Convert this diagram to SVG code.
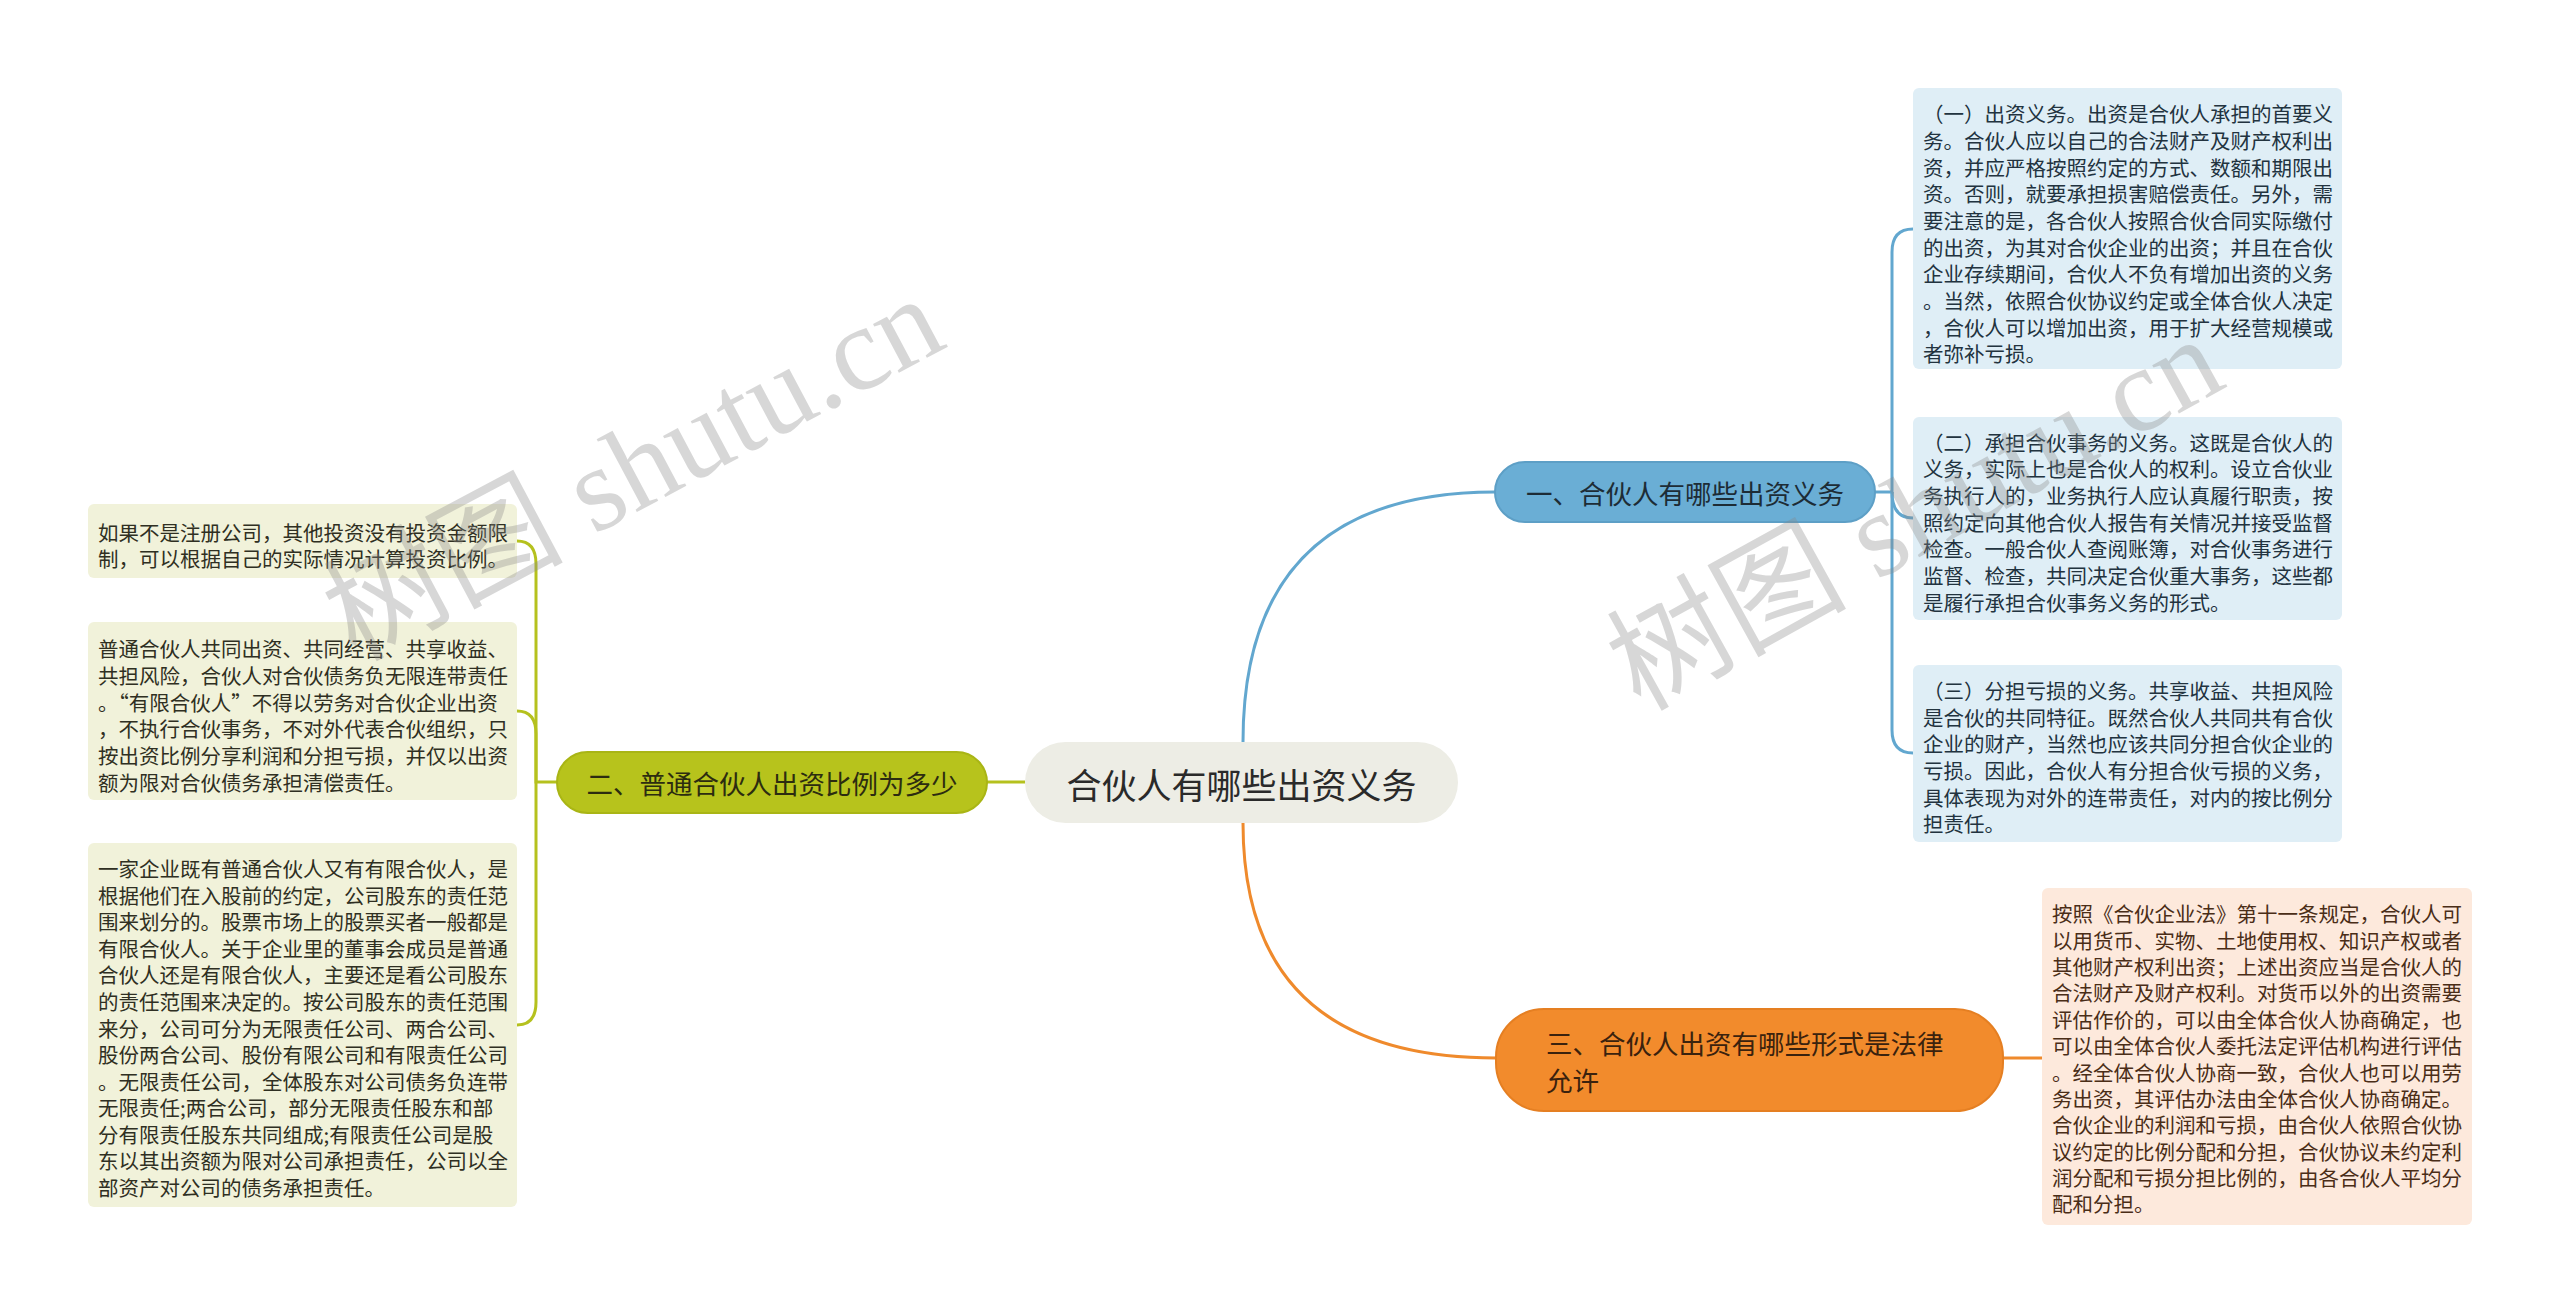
<svg xmlns="http://www.w3.org/2000/svg" width="2560" height="1312" viewBox="0 0 2560 1312">
<style>
.cn{font-family:"Noto Sans CJK SC","Noto Sans",sans-serif;dominant-baseline:central}
.leaf{font-size:20.5px}
.lb{fill:#dfeef6}
.lg{fill:#f1f2da}
.lo{fill:#fde9dc}
.tb{fill:#22333f}
.tg{fill:#2f2f22}
.to{fill:#4a2d17}
.cb{fill:none;stroke:#62a7cf;stroke-width:3}
.cg{fill:none;stroke:#b5c11e;stroke-width:3}
.co{fill:none;stroke:#ef8a2c;stroke-width:3}
.wm{font-size:120px;fill:#888;opacity:0.33}
</style>
<rect width="2560" height="1312" fill="#ffffff"/>
<g id="connectors">
<path class="cb" d="M1243,742 Q1243,492 1495,492"/>
<path class="cb" d="M1875,492 H1892 V252 Q1892,229 1913,229"/>
<path class="cb" d="M1892,492 Q1892,518 1913,518"/>
<path class="cb" d="M1892,492 V730 Q1892,753 1913,753"/>
<path class="cg" d="M1025,782 H987"/>
<path class="cg" d="M557,782 H536 V564 Q536,541 517,541"/>
<path class="cg" d="M536,782 V734 Q536,711 517,711"/>
<path class="cg" d="M536,782 V1002 Q536,1025 517,1025"/>
<path class="co" d="M1243,823 Q1243,1058 1496,1058"/>
<path class="co" d="M2003,1058 H2042"/>
</g>
<g id="center">
<rect x="1025" y="742" width="433" height="81" rx="40.5" fill="#ededE5"/>
<text class="cn" x="1241.5" y="783" font-size="35" text-anchor="middle" fill="#2a2a2a">合伙人有哪些出资义务</text>
</g>
<g id="b1">
<rect x="1495" y="462" width="380" height="60" rx="30" fill="#6aaed5" stroke="#5d9fc6" stroke-width="2"/>
<text class="cn" x="1685" y="492" font-size="26.5" text-anchor="middle" fill="#1d2c36">一、合伙人有哪些出资义务</text>
</g>
<g id="b2">
<rect x="557" y="752" width="430" height="61" rx="30.5" fill="#b7c31c" stroke="#a9b515" stroke-width="2"/>
<text class="cn" x="772" y="782.5" font-size="26.5" text-anchor="middle" fill="#2c2c10">二、普通合伙人出资比例为多少</text>
</g>
<g id="b3">
<rect x="1496" y="1009" width="507" height="102" rx="48" fill="#f28b2c" stroke="#e57f22" stroke-width="2"/>
<text class="cn" font-size="26.5" fill="#3a220e"><tspan x="1546" y="1042">三、合伙人出资有哪些形式是法律</tspan><tspan x="1546" y="1079">允许</tspan></text>
</g>
<g id="r1">
<rect class="lb" x="1913" y="88" width="429" height="281" rx="6"/>
<text class="cn leaf tb">
<tspan x="1923" y="113.3">（一）出资义务。出资是合伙人承担的首要义</tspan>
<tspan x="1923" y="140">务。合伙人应以自己的合法财产及财产权利出</tspan>
<tspan x="1923" y="166.6">资，并应严格按照约定的方式、数额和期限出</tspan>
<tspan x="1923" y="193.3">资。否则，就要承担损害赔偿责任。另外，需</tspan>
<tspan x="1923" y="220">要注意的是，各合伙人按照合伙合同实际缴付</tspan>
<tspan x="1923" y="246.6">的出资，为其对合伙企业的出资；并且在合伙</tspan>
<tspan x="1923" y="273.3">企业存续期间，合伙人不负有增加出资的义务</tspan>
<tspan x="1923" y="300">。当然，依照合伙协议约定或全体合伙人决定</tspan>
<tspan x="1923" y="326.6">，合伙人可以增加出资，用于扩大经营规模或</tspan>
<tspan x="1923" y="353.3">者弥补亏损。</tspan>
</text>
</g>
<g id="r2">
<rect class="lb" x="1913" y="417" width="429" height="203" rx="6"/>
<text class="cn leaf tb">
<tspan x="1923" y="441.7">（二）承担合伙事务的义务。这既是合伙人的</tspan>
<tspan x="1923" y="468.4">义务，实际上也是合伙人的权利。设立合伙业</tspan>
<tspan x="1923" y="495">务执行人的，业务执行人应认真履行职责，按</tspan>
<tspan x="1923" y="521.7">照约定向其他合伙人报告有关情况并接受监督</tspan>
<tspan x="1923" y="548.4">检查。一般合伙人查阅账簿，对合伙事务进行</tspan>
<tspan x="1923" y="575">监督、检查，共同决定合伙重大事务，这些都</tspan>
<tspan x="1923" y="601.7">是履行承担合伙事务义务的形式。</tspan>
</text>
</g>
<g id="r3">
<rect class="lb" x="1913" y="665" width="429" height="177" rx="6"/>
<text class="cn leaf tb">
<tspan x="1923" y="690">（三）分担亏损的义务。共享收益、共担风险</tspan>
<tspan x="1923" y="716.7">是合伙的共同特征。既然合伙人共同共有合伙</tspan>
<tspan x="1923" y="743.3">企业的财产，当然也应该共同分担合伙企业的</tspan>
<tspan x="1923" y="770">亏损。因此，合伙人有分担合伙亏损的义务，</tspan>
<tspan x="1923" y="796.7">具体表现为对外的连带责任，对内的按比例分</tspan>
<tspan x="1923" y="823.3">担责任。</tspan>
</text>
</g>
<g id="o1">
<rect class="lo" x="2042" y="888" width="430" height="337" rx="6"/>
<text class="cn leaf to">
<tspan x="2052" y="913.3">按照《合伙企业法》第十一条规定，合伙人可</tspan>
<tspan x="2052" y="939.7">以用货币、实物、土地使用权、知识产权或者</tspan>
<tspan x="2052" y="966">其他财产权利出资；上述出资应当是合伙人的</tspan>
<tspan x="2052" y="992.4">合法财产及财产权利。对货币以外的出资需要</tspan>
<tspan x="2052" y="1018.8">评估作价的，可以由全体合伙人协商确定，也</tspan>
<tspan x="2052" y="1045.1">可以由全体合伙人委托法定评估机构进行评估</tspan>
<tspan x="2052" y="1071.5">。经全体合伙人协商一致，合伙人也可以用劳</tspan>
<tspan x="2052" y="1097.8">务出资，其评估办法由全体合伙人协商确定。</tspan>
<tspan x="2052" y="1124.2">合伙企业的利润和亏损，由合伙人依照合伙协</tspan>
<tspan x="2052" y="1150.6">议约定的比例分配和分担，合伙协议未约定利</tspan>
<tspan x="2052" y="1176.9">润分配和亏损分担比例的，由各合伙人平均分</tspan>
<tspan x="2052" y="1203.3">配和分担。</tspan>
</text>
</g>
<g id="g1">
<rect class="lg" x="88" y="504" width="429" height="74" rx="6"/>
<text class="cn leaf tg">
<tspan x="98" y="531.7">如果不是注册公司，其他投资没有投资金额限</tspan>
<tspan x="98" y="558.4">制，可以根据自己的实际情况计算投资比例。</tspan>
</text>
</g>
<g id="g2">
<rect class="lg" x="88" y="622" width="429" height="178" rx="6"/>
<text class="cn leaf tg">
<tspan x="98" y="648.3">普通合伙人共同出资、共同经营、共享收益、</tspan>
<tspan x="98" y="675">共担风险，合伙人对合伙债务负无限连带责任</tspan>
<tspan x="98" y="701.7">。“有限合伙人”不得以劳务对合伙企业出资</tspan>
<tspan x="98" y="728.3">，不执行合伙事务，不对外代表合伙组织，只</tspan>
<tspan x="98" y="755">按出资比例分享利润和分担亏损，并仅以出资</tspan>
<tspan x="98" y="781.7">额为限对合伙债务承担清偿责任。</tspan>
</text>
</g>
<g id="g3">
<rect class="lg" x="88" y="843" width="429" height="364" rx="6"/>
<text class="cn leaf tg">
<tspan x="98" y="868.3">一家企业既有普通合伙人又有有限合伙人，是</tspan>
<tspan x="98" y="894.8">根据他们在入股前的约定，公司股东的责任范</tspan>
<tspan x="98" y="921.4">围来划分的。股票市场上的股票买者一般都是</tspan>
<tspan x="98" y="947.9">有限合伙人。关于企业里的董事会成员是普通</tspan>
<tspan x="98" y="974.4">合伙人还是有限合伙人，主要还是看公司股东</tspan>
<tspan x="98" y="1001">的责任范围来决定的。按公司股东的责任范围</tspan>
<tspan x="98" y="1027.5">来分，公司可分为无限责任公司、两合公司、</tspan>
<tspan x="98" y="1054">股份两合公司、股份有限公司和有限责任公司</tspan>
<tspan x="98" y="1080.5">。无限责任公司，全体股东对公司债务负连带</tspan>
<tspan x="98" y="1107.1">无限责任;两合公司，部分无限责任股东和部</tspan>
<tspan x="98" y="1133.6">分有限责任股东共同组成;有限责任公司是股</tspan>
<tspan x="98" y="1160.1">东以其出资额为限对公司承担责任，公司以全</tspan>
<tspan x="98" y="1186.7">部资产对公司的债务承担责任。</tspan>
</text>
</g>
<g id="watermarks">
<text class="wm" transform="translate(355,662) rotate(-28)" font-family="Liberation Serif,Noto Sans CJK SC,serif">树图 shutu.cn</text>
<text class="wm" transform="translate(1640,712) rotate(-29)" font-family="Liberation Serif,Noto Sans CJK SC,serif">树图 shutu.cn</text>
</g>
</svg>
